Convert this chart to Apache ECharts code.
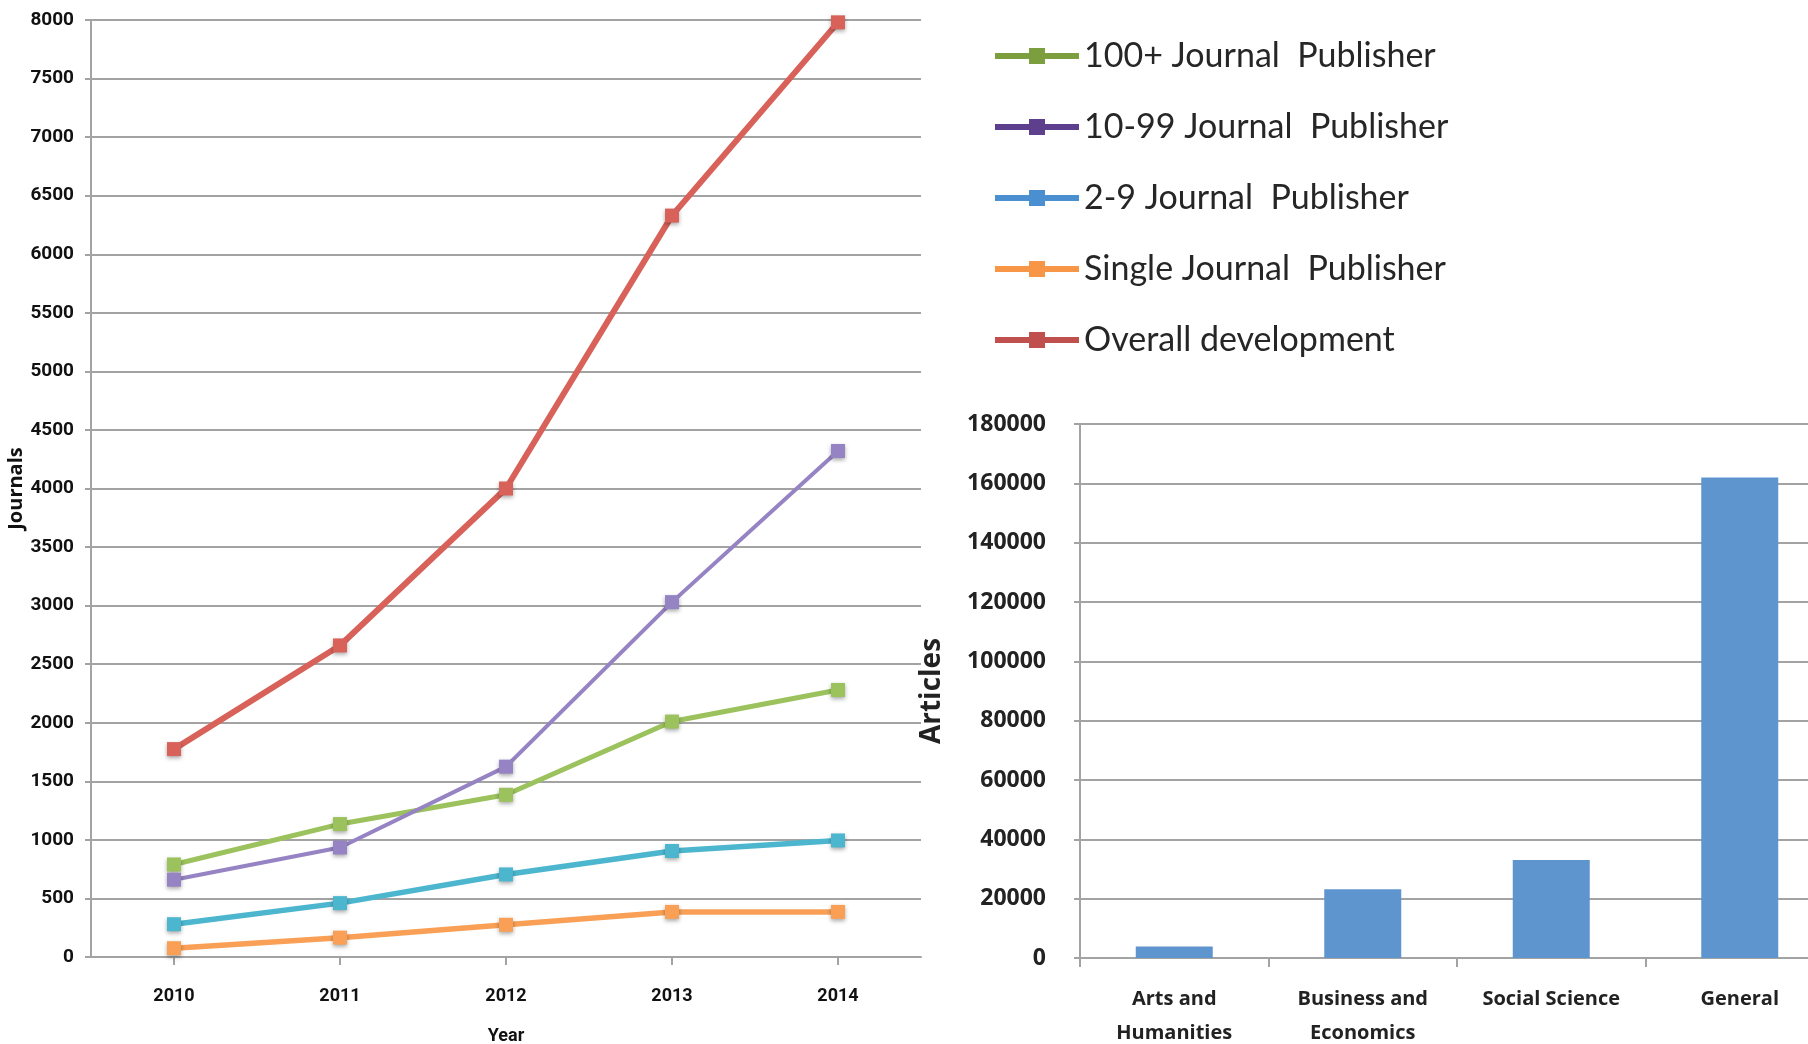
<!DOCTYPE html>
<html>
<head>
<meta charset="utf-8">
<script src="https://cdn.jsdelivr.net/npm/echarts@6/dist/echarts.min.js"></script>
<style>
html,body{margin:0;padding:0;background:#fff;}
#chart{width:1808px;height:1044px;}
</style>
</head>
<body>
<div id="chart"></div>
<script>
// ---- Data ----
const years = ['2010', '2011', '2012', '2013', '2014'];
const seriesNames = ['100+ Journal  Publisher', '10-99 Journal  Publisher', '2-9 Journal  Publisher', 'Single Journal  Publisher', 'Overall development'];
const pub100 = [790, 1135, 1385, 2010, 2280];
const pub10to99 = [660, 935, 1625, 3030, 4320];
const pub2to9 = [280, 460, 705, 905, 995];
const pubSingle = [75, 165, 275, 385, 385];
const overall = [1775, 2660, 4000, 6330, 7980];

const subjects = ['Arts and\nHumanities', 'Business and\nEconomics', 'Social Science', 'General'];
const articles = [3900, 23200, 33000, 162000];

// ---- Styles ----
const lineColors = ['#9BC25C', '#9683C3', '#4DB6CF', '#F9A056', '#D8625A'];
const legendColors = ['#7C9E3E', '#5E3F8E', '#4A8FD0', '#F79646', '#C0504D'];
const lineValues = [pub100, pub10to99, pub2to9, pubSingle, overall];
const lineWidths = [5, 4, 5.5, 5.5, 6];
const leftFont = "Roboto, sans-serif";
const rightFont = "'Open Sans', sans-serif";
const gridGray = '#a3a3a3';
const plain = v => String(v);

const chart = echarts.init(document.getElementById('chart'));

const lineSeries = seriesNames.map((n, i) => ({
  name: n,
  type: 'line',
  xAxisIndex: 0,
  yAxisIndex: 0,
  data: lineValues[i],
  symbol: 'rect',
  symbolSize: 14,
  z: i === 4 ? 5 : 3,
  lineStyle: { color: lineColors[i], width: lineWidths[i] },
  itemStyle: { color: lineColors[i], shadowBlur: 4, shadowColor: 'rgba(0,0,0,0.35)', shadowOffsetY: 2 }
}));

const option = {
  backgroundColor: '#ffffff',
  animation: false,
  legend: {
    orient: 'vertical',
    left: 987,
    top: 29,
    itemWidth: 84,
    itemHeight: 20,
    itemGap: 27,
    data: seriesNames.map((n, i) => ({
      name: n,
      itemStyle: { color: legendColors[i] },
      lineStyle: { color: legendColors[i], width: 6 }
    })),
    textStyle: { fontFamily: 'Lato, sans-serif', fontSize: 34, color: '#262626', lineHeight: 40, padding: [4, 0, 0, 0] }
  },
  grid: [
    { left: 91, top: 20, width: 830, height: 937, outerBoundsMode: 'none' },
    { left: 1080, top: 424, width: 754, height: 534, outerBoundsMode: 'none' }
  ],
  xAxis: [
    {
      type: 'category', gridIndex: 0, data: years, boundaryGap: true,
      axisLine: { show: true, lineStyle: { color: gridGray, width: 2 } },
      axisTick: { show: true, alignWithLabel: true, length: 8, lineStyle: { color: gridGray, width: 2 } },
      axisLabel: { fontFamily: leftFont, fontWeight: 'bold', fontSize: 18, color: '#111', margin: 30 },
      name: 'Year', nameLocation: 'middle', nameGap: 70,
      nameTextStyle: { fontFamily: leftFont, fontWeight: 'bold', fontSize: 18, color: '#111' }
    },
    {
      type: 'category', gridIndex: 1, data: subjects, boundaryGap: true,
      axisLine: { show: true, lineStyle: { color: gridGray, width: 2 } },
      axisTick: { show: true, length: 9, lineStyle: { color: gridGray, width: 2 } },
      axisLabel: { interval: 0, fontFamily: rightFont, fontWeight: 'bold', fontSize: 20, color: '#222', margin: 24, lineHeight: 34 }
    }
  ],
  yAxis: [
    {
      type: 'value', gridIndex: 0, min: 0, max: 8000, interval: 500,
      axisLine: { show: true, lineStyle: { color: gridGray, width: 2 } },
      axisTick: { show: true, length: 6, lineStyle: { color: gridGray, width: 2 } },
      splitLine: { show: true, lineStyle: { color: gridGray, width: 2 } },
      axisLabel: { fontFamily: leftFont, fontWeight: 'bold', fontSize: 19, color: '#111', margin: 17, formatter: plain },
      name: 'Journals', nameLocation: 'middle', nameGap: 58, nameRotate: 90,
      nameTextStyle: { fontFamily: rightFont, fontWeight: 'bold', fontSize: 20, color: '#111' }
    },
    {
      type: 'value', gridIndex: 1, min: 0, max: 180000, interval: 20000,
      axisLine: { show: true, lineStyle: { color: gridGray, width: 2 } },
      axisTick: { show: true, length: 6, lineStyle: { color: gridGray, width: 2 } },
      splitLine: { show: true, lineStyle: { color: gridGray, width: 2 } },
      axisLabel: { fontFamily: rightFont, fontWeight: 'bold', fontSize: 23, color: '#222', margin: 34, formatter: plain },
      name: 'Articles', nameLocation: 'middle', nameGap: 134, nameRotate: 90,
      nameTextStyle: { fontFamily: rightFont, fontWeight: 'bold', fontSize: 28, color: '#222' }
    }
  ],
  series: lineSeries.concat([{
    name: 'Articles',
    type: 'bar',
    xAxisIndex: 1,
    yAxisIndex: 1,
    data: articles,
    barWidth: 77,
    itemStyle: { color: '#5E95CE' }
  }])
};

chart.setOption(option);
</script>
</body>
</html>
